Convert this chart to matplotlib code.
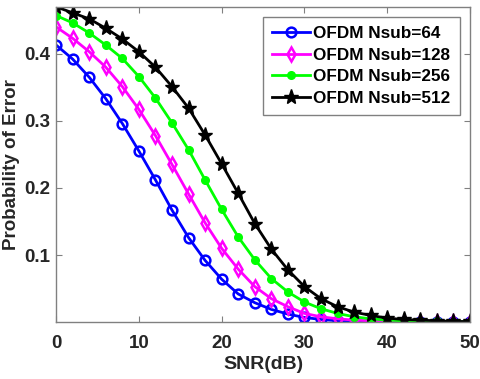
import numpy as np
import matplotlib.pyplot as plt

plt.rcParams['font.family'] = ['Liberation Sans', 'DejaVu Sans']
plt.rcParams['font.weight'] = 'bold'

snr_db = np.arange(0, 51, 2)

# 误码概率
pe_64 = [0.413, 0.392, 0.365, 0.333, 0.296, 0.255, 0.212, 0.167, 0.126, 0.092,
         0.064, 0.042, 0.029, 0.019, 0.012, 0.007, 0.004, 0.002, 0.001, 0.001,
         0.0005, 0.0003, 0.0002, 0.0001, 0.0001, 0.0]
pe_128 = [0.440, 0.423, 0.403, 0.380, 0.351, 0.317, 0.278, 0.235, 0.191, 0.148,
          0.110, 0.079, 0.053, 0.035, 0.023, 0.013, 0.008, 0.005, 0.003, 0.002,
          0.001, 0.0006, 0.0004, 0.0002, 0.0001, 0.0001]
pe_256 = [0.457, 0.446, 0.431, 0.413, 0.393, 0.366, 0.334, 0.297, 0.257, 0.212,
          0.168, 0.127, 0.093, 0.065, 0.045, 0.030, 0.020, 0.013, 0.008, 0.005,
          0.003, 0.002, 0.001, 0.001, 0.0005, 0.0003]
pe_512 = [0.470, 0.461, 0.452, 0.438, 0.422, 0.403, 0.380, 0.351, 0.319, 0.279,
          0.236, 0.192, 0.147, 0.109, 0.078, 0.053, 0.035, 0.023, 0.015, 0.010,
          0.006, 0.004, 0.003, 0.002, 0.001, 0.001]

labels = ['OFDM Nsub=64', 'OFDM Nsub=128', 'OFDM Nsub=256', 'OFDM Nsub=512']

fig = plt.figure(figsize=(4.8, 3.79), dpi=100)
ax = fig.add_axes([0.117, 0.150, 0.862, 0.832])

ax.plot(snr_db, pe_64, color='#0000ff', lw=2, marker='o', ms=7, mfc='none', mew=1.8, label=labels[0])
ax.plot(snr_db, pe_128, color='#ff00ff', lw=2, marker='d', ms=7.5, mfc='none', mew=1.8, label=labels[1])
ax.plot(snr_db, pe_256, color='#00ff00', lw=2, marker='.', ms=11, label=labels[2])
ax.plot(snr_db, pe_512, color='#000000', lw=2, marker='*', ms=11, label=labels[3])

ax.set_xlim(0, 50)
ax.set_ylim(0, 0.47)
ax.set_xticks([0, 10, 20, 30, 40, 50])
ax.set_yticks([0.1, 0.2, 0.3, 0.4])
ax.set_yticklabels(['0.1', '0.2', '0.3', '0.4'])
ax.tick_params(direction='in', top=True, right=True, labelsize=13.5, labelcolor='#262626',
               length=4, width=0.8, color='#808080')
ax.tick_params(axis='x', pad=9)
ax.tick_params(axis='y', pad=4)
for tl in ax.get_xticklabels() + ax.get_yticklabels():
    tl.set_fontweight('bold')
for sp in ax.spines.values():
    sp.set_color('#808080')
    sp.set_linewidth(1)

ax.set_xlabel('SNR(dB)', fontsize=14, fontweight='bold', color='#262626', labelpad=3)
ax.set_ylabel('Probability of Error', fontsize=13.5, fontweight='bold', color='#262626')
ax.yaxis.set_label_coords(-0.087, 0.5)

leg = ax.legend(loc='upper right', prop={'weight': 'bold', 'size': 12.3},
                fancybox=False, edgecolor='#808080', framealpha=1,
                handlelength=2.2, borderpad=0.55, labelspacing=0.38, handletextpad=0.2,
                borderaxespad=0.6)

fig.savefig('out.png', dpi=100)
